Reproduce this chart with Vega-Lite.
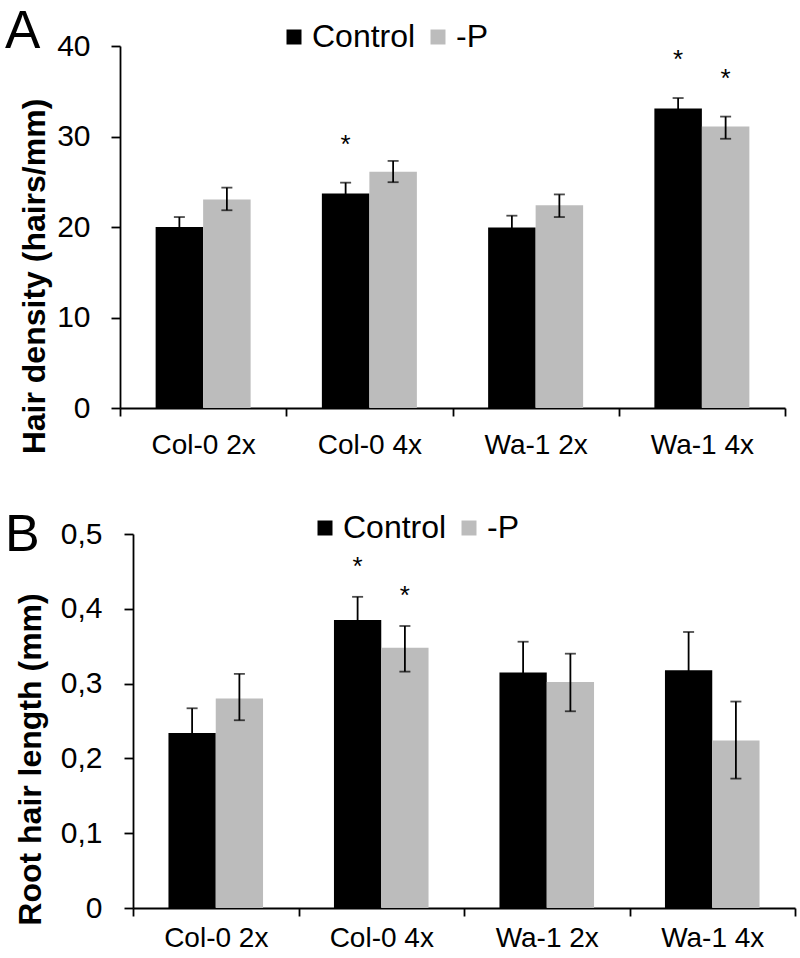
{
  "$schema": "https://vega.github.io/schema/vega-lite/v6.json",
  "background": "white",
  "padding": {"left": 5, "top": 6, "right": 5, "bottom": 5},
  "datasets": {
    "density": [
      {"genotype": "Col-0 2x", "treatment": "Control", "value": 20.0, "lo": 18.9, "hi": 21.1, "sig": ""},
      {"genotype": "Col-0 2x", "treatment": "-P", "value": 23.05, "lo": 21.85, "hi": 24.35, "sig": ""},
      {"genotype": "Col-0 4x", "treatment": "Control", "value": 23.7, "lo": 22.5, "hi": 24.9, "sig": "*"},
      {"genotype": "Col-0 4x", "treatment": "-P", "value": 26.1, "lo": 24.95, "hi": 27.3, "sig": ""},
      {"genotype": "Wa-1 2x", "treatment": "Control", "value": 19.95, "lo": 18.6, "hi": 21.25, "sig": ""},
      {"genotype": "Wa-1 2x", "treatment": "-P", "value": 22.4, "lo": 21.1, "hi": 23.6, "sig": ""},
      {"genotype": "Wa-1 4x", "treatment": "Control", "value": 33.1, "lo": 31.95, "hi": 34.25, "sig": "*"},
      {"genotype": "Wa-1 4x", "treatment": "-P", "value": 31.1, "lo": 29.75, "hi": 32.2, "sig": "*"}
    ],
    "length": [
      {"genotype": "Col-0 2x", "treatment": "Control", "value": 0.234, "lo": 0.201, "hi": 0.267, "sig": ""},
      {"genotype": "Col-0 2x", "treatment": "-P", "value": 0.280, "lo": 0.251, "hi": 0.313, "sig": ""},
      {"genotype": "Col-0 4x", "treatment": "Control", "value": 0.385, "lo": 0.355, "hi": 0.416, "sig": "*"},
      {"genotype": "Col-0 4x", "treatment": "-P", "value": 0.348, "lo": 0.316, "hi": 0.377, "sig": "*"},
      {"genotype": "Wa-1 2x", "treatment": "Control", "value": 0.315, "lo": 0.274, "hi": 0.356, "sig": ""},
      {"genotype": "Wa-1 2x", "treatment": "-P", "value": 0.302, "lo": 0.263, "hi": 0.340, "sig": ""},
      {"genotype": "Wa-1 4x", "treatment": "Control", "value": 0.318, "lo": 0.267, "hi": 0.369, "sig": ""},
      {"genotype": "Wa-1 4x", "treatment": "-P", "value": 0.224, "lo": 0.173, "hi": 0.276, "sig": ""}
    ]
  },
  "vconcat": [
    {
      "data": {"name": "density"},
      "width": 652,
      "height": 362,
      "title": {"text": "A", "anchor": "start", "frame": "group", "fontSize": 53, "font": "Liberation Sans", "fontWeight": "normal", "color": "black", "dx": -128, "dy": 80, "offset": 0, "baseline": "alphabetic"},
      "encoding": {
        "x": {"field": "genotype", "type": "nominal", "sort": ["Col-0 2x", "Col-0 4x", "Wa-1 2x", "Wa-1 4x"],
              "scale": {"paddingInner": 0, "paddingOuter": 0, "range": [-13, 652]},
              "axis": {"title": null, "labelAngle": 0, "tickBand": "extent", "labelFontSize": 28, "labelPadding": 15, "tickSize": 8}},
        "xOffset": {"field": "treatment", "type": "nominal", "sort": ["Control", "-P"], "scale": {"paddingInner": 0, "paddingOuter": 0.75}}
      },
      "layer": [
        {
          "mark": {"type": "bar"},
          "encoding": {
            "y": {"field": "value", "type": "quantitative", "title": "Hair density (hairs/mm)", "scale": {"domain": [0, 40]},
                  "axis": {"values": [0, 10, 20, 30, 40], "offset": 13, "titleX": -69, "titleY": 230, "labelPadding": 21}},
            "color": {"field": "treatment", "type": "nominal", "sort": ["Control", "-P"],
                      "scale": {"domain": ["Control", "-P"], "range": ["#000000", "#bcbcbc"]},
                      "legend": {"title": null, "orient": "none", "legendX": 145, "legendY": -25, "direction": "horizontal",
                                 "symbolType": "square", "symbolSize": 225, "symbolStrokeWidth": 0, "symbolOpacity": 1,
                                 "labelFontSize": 32, "labelFont": "Liberation Sans", "labelColor": "black", "labelOffset": 2, "columnPadding": 6}}
          }
        },
        {
          "mark": {"type": "rule", "color": "black", "strokeWidth": 1.8},
          "encoding": {"y": {"field": "lo", "type": "quantitative", "title": "Hair density (hairs/mm)", "scale": {"domain": [0, 40]},
                             "axis": {"values": [0, 10, 20, 30, 40], "offset": 13, "titleX": -69, "titleY": 230, "labelPadding": 21}},
                       "y2": {"field": "hi"}}
        },
        {
          "mark": {"type": "tick", "color": "black", "thickness": 1.8, "size": 11, "orient": "horizontal"},
          "encoding": {"y": {"field": "hi", "type": "quantitative", "title": "Hair density (hairs/mm)", "scale": {"domain": [0, 40]},
                             "axis": {"values": [0, 10, 20, 30, 40], "offset": 13, "titleX": -69, "titleY": 230, "labelPadding": 21}}}
        },
        {
          "mark": {"type": "tick", "color": "black", "thickness": 1.8, "size": 11, "orient": "horizontal"},
          "encoding": {"y": {"field": "lo", "type": "quantitative", "title": "Hair density (hairs/mm)", "scale": {"domain": [0, 40]},
                             "axis": {"values": [0, 10, 20, 30, 40], "offset": 13, "titleX": -69, "titleY": 230, "labelPadding": 21}}}
        },
        {
          "mark": {"type": "text", "fontSize": 26, "font": "Liberation Sans", "color": "black", "baseline": "middle", "dy": -38},
          "encoding": {"y": {"field": "hi", "type": "quantitative", "title": "Hair density (hairs/mm)", "scale": {"domain": [0, 40]},
                             "axis": {"values": [0, 10, 20, 30, 40], "offset": 13, "titleX": -69, "titleY": 230, "labelPadding": 21}},
                       "text": {"field": "sig"}}
        }
      ]
    },
    {
      "data": {"name": "length"},
      "width": 662,
      "height": 374,
      "title": {"text": "B", "anchor": "start", "frame": "group", "fontSize": 52, "font": "Liberation Sans", "fontWeight": "normal", "color": "black", "dx": -128, "dy": 91, "offset": 0, "baseline": "alphabetic"},
      "encoding": {
        "x": {"field": "genotype", "type": "nominal", "sort": ["Col-0 2x", "Col-0 4x", "Wa-1 2x", "Wa-1 4x"],
              "scale": {"paddingInner": 0, "paddingOuter": 0},
              "axis": {"title": null, "labelAngle": 0, "tickBand": "extent", "labelFontSize": 28, "labelPadding": 8, "tickSize": 8}},
        "xOffset": {"field": "treatment", "type": "nominal", "sort": ["Control", "-P"], "scale": {"paddingInner": 0, "paddingOuter": 0.75}}
      },
      "layer": [
        {
          "mark": {"type": "bar"},
          "encoding": {
            "y": {"field": "value", "type": "quantitative", "title": "Root hair length (mm)", "scale": {"domain": [0, 0.5]},
                  "axis": {"values": [0, 0.1, 0.2, 0.3, 0.4, 0.5], "labelExpr": "datum.value == 0 ? '0' : replace(format(datum.value, '.1f'), '.', ',')", "titleX": -86, "titleY": 225, "labelPadding": 22}},
            "color": {"field": "treatment", "type": "nominal", "sort": ["Control", "-P"],
                      "scale": {"domain": ["Control", "-P"], "range": ["#000000", "#bcbcbc"]},
                      "legend": {"title": null, "orient": "none", "legendX": 176, "legendY": -22, "direction": "horizontal",
                                 "symbolType": "square", "symbolSize": 225, "symbolStrokeWidth": 0, "symbolOpacity": 1,
                                 "labelFontSize": 32, "labelFont": "Liberation Sans", "labelColor": "black", "labelOffset": 2, "columnPadding": 6}}
          }
        },
        {
          "mark": {"type": "rule", "color": "black", "strokeWidth": 1.8},
          "encoding": {"y": {"field": "lo", "type": "quantitative", "title": "Root hair length (mm)", "scale": {"domain": [0, 0.5]},
                             "axis": {"values": [0, 0.1, 0.2, 0.3, 0.4, 0.5], "labelExpr": "datum.value == 0 ? '0' : replace(format(datum.value, '.1f'), '.', ',')", "titleX": -86, "titleY": 225, "labelPadding": 22}},
                       "y2": {"field": "hi"}}
        },
        {
          "mark": {"type": "tick", "color": "black", "thickness": 1.8, "size": 11, "orient": "horizontal"},
          "encoding": {"y": {"field": "hi", "type": "quantitative", "title": "Root hair length (mm)", "scale": {"domain": [0, 0.5]},
                             "axis": {"values": [0, 0.1, 0.2, 0.3, 0.4, 0.5], "labelExpr": "datum.value == 0 ? '0' : replace(format(datum.value, '.1f'), '.', ',')", "titleX": -86, "titleY": 225, "labelPadding": 22}}}
        },
        {
          "mark": {"type": "tick", "color": "black", "thickness": 1.8, "size": 11, "orient": "horizontal"},
          "encoding": {"y": {"field": "lo", "type": "quantitative", "title": "Root hair length (mm)", "scale": {"domain": [0, 0.5]},
                             "axis": {"values": [0, 0.1, 0.2, 0.3, 0.4, 0.5], "labelExpr": "datum.value == 0 ? '0' : replace(format(datum.value, '.1f'), '.', ',')", "titleX": -86, "titleY": 225, "labelPadding": 22}}}
        },
        {
          "mark": {"type": "text", "fontSize": 26, "font": "Liberation Sans", "color": "black", "baseline": "middle", "dy": -30},
          "encoding": {"y": {"field": "hi", "type": "quantitative", "title": "Root hair length (mm)", "scale": {"domain": [0, 0.5]},
                             "axis": {"values": [0, 0.1, 0.2, 0.3, 0.4, 0.5], "labelExpr": "datum.value == 0 ? '0' : replace(format(datum.value, '.1f'), '.', ',')", "titleX": -86, "titleY": 225, "labelPadding": 22}},
                       "text": {"field": "sig"}}
        }
      ]
    }
  ],
  "spacing": 50,
  "resolve": {
    "scale": {"color": "independent", "x": "independent", "y": "independent", "xOffset": "independent"},
    "legend": {"color": "independent"}
  },
  "config": {
    "view": {"stroke": null},
    "axis": {"domainColor": "black", "domainWidth": 1.8, "tickColor": "black", "tickWidth": 1.8, "labelColor": "black",
             "labelFont": "Liberation Sans", "titleFont": "Liberation Sans", "titleColor": "black", "grid": false},
    "axisY": {"labelFontSize": 30, "tickSize": 9, "titleFontSize": 32, "titleFontWeight": "bold"},
    "text": {"font": "Liberation Sans"}
  }
}
